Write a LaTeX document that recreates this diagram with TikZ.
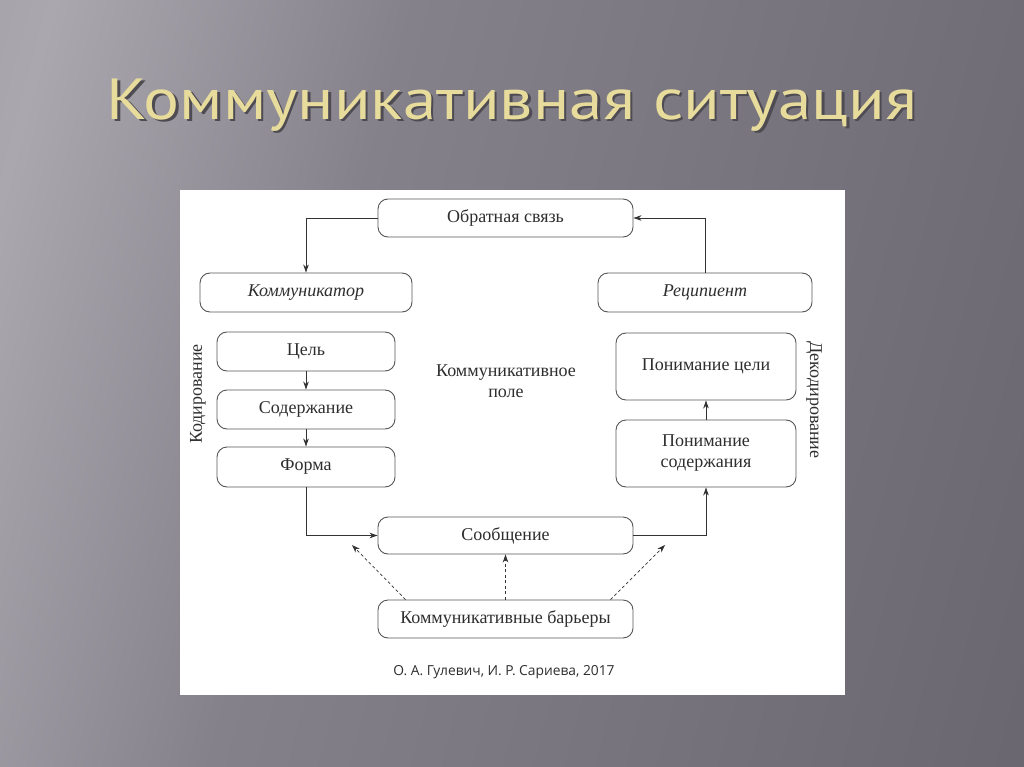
\documentclass[tikz,border=0pt]{standalone}
\usepackage{fontspec}
\setmainfont{Liberation Serif}
\newfontfamily\titlefont{PT Sans}
\newfontfamily\citefont{Open Sans}
\usetikzlibrary{arrows.meta}
\definecolor{bgA}{HTML}{8E8A93}
\definecolor{bgB}{HTML}{ABA7AF}
\definecolor{bgC}{HTML}{85818A}
\definecolor{bgD}{HTML}{5E5A63}
\definecolor{linec}{HTML}{555555}
\definecolor{arrc}{HTML}{333333}
\definecolor{txtc}{HTML}{2E2E2E}
\definecolor{titlec}{HTML}{E8DC9C}
\definecolor{titlesh}{HTML}{4E4B52}
\pgfdeclarehorizontalshading{bgshade}{100bp}{color(0bp)=(bgA); color(22bp)=(bgB); color(40bp)=(bgC); color(100bp)=(bgD)}
\newcommand{\shadowtitle}[1]{\makebox[0pt][l]{\hspace{2.2pt}\raisebox{-2.5pt}{\color{titlesh}#1}}{\color{titlec}#1}}
\begin{document}
\begin{tikzpicture}[x=1pt,y=-1pt,
  box/.style={draw=linec, line width=0.9pt, rounded corners=10pt, fill=white,
    inner sep=0pt, align=center, text=txtc, font=\fontsize{18}{21}\selectfont},
  arr/.style={draw=arrc, line width=0.8pt, -{Stealth[length=8pt,width=5.5pt]}},
  darr/.style={draw=arrc, line width=0.7pt, dashed, dash pattern=on 3pt off 2.5pt, -{Stealth[length=8pt,width=5.5pt]}},
  lab/.style={text=txtc, font=\fontsize{18}{21}\selectfont, inner sep=0pt}]
\useasboundingbox (0,0) rectangle (1024,767);
\shade[shading=bgshade, shading angle=-15] (0,0) rectangle (1024,767);
% title
\node[font=\titlefont\fontsize{58}{66}\selectfont, inner sep=0pt, xscale=1.16] (title) at (512,106) {\shadowtitle{Коммуникативная ситуация}};
% panel
\fill[white] (180,190) rectangle (845,695);
% nodes
\node[box, minimum width=255pt, minimum height=38pt] (fb) at (505.5,218) {Обратная связь};
\node[box, minimum width=212pt, minimum height=39pt, font=\itshape\fontsize{18}{21}\selectfont] (kom) at (306,292.5) {Коммуникатор};
\node[box, minimum width=214pt, minimum height=39pt, font=\itshape\fontsize{18}{21}\selectfont] (rec) at (705,292.5) {Реципиент};
\node[box, minimum width=178pt, minimum height=39pt] (cel) at (306,351.5) {Цель};
\node[box, minimum width=178pt, minimum height=39pt] (sod) at (306,409.5) {Содержание};
\node[box, minimum width=178pt, minimum height=40pt] (form) at (306,467) {Форма};
\node[box, minimum width=180pt, minimum height=67pt] (pc) at (706,366.5) {Понимание цели};
\node[box, minimum width=180pt, minimum height=67pt] (ps) at (706,453.5) {Понимание\\содержания};
\node[box, minimum width=255pt, minimum height=37pt] (msg) at (505.5,535.5) {Сообщение};
\node[box, minimum width=255pt, minimum height=38pt] (bar) at (505.5,619) {Коммуникативные барьеры};
\node[lab, align=center] (field) at (506,381) {Коммуникативное\\поле};
\node[lab, rotate=90] (kod) at (198,394) {Кодирование};
\node[lab, rotate=-90] (dekod) at (814,400) {Декодирование};
\node[font=\citefont\fontsize{13.8}{16}\selectfont, text=txtc, inner sep=0pt] (cite) at (504,672) {О. А. Гулевич, И. Р. Сариева, 2017};
% connectors
\draw[arr] (fb.west) -| (kom.north);
\draw[arr] (rec.north) |- (fb.east);
\draw[arr] (cel) -- (sod);
\draw[arr] (sod) -- (form);
\draw[arr] (form.south) |- (msg.west);
\draw[arr] (msg.east) -| (ps.south);
\draw[arr] (ps) -- (pc);
\coordinate (dl) at (352,545);
\coordinate (dr) at (665,545);
\draw[darr] ([xshift=-100pt]bar.north) -- (dl);
\draw[darr] (bar.north) -- (msg.south);
\draw[darr] ([xshift=105pt]bar.north) -- (dr);
\end{tikzpicture}
\end{document}
